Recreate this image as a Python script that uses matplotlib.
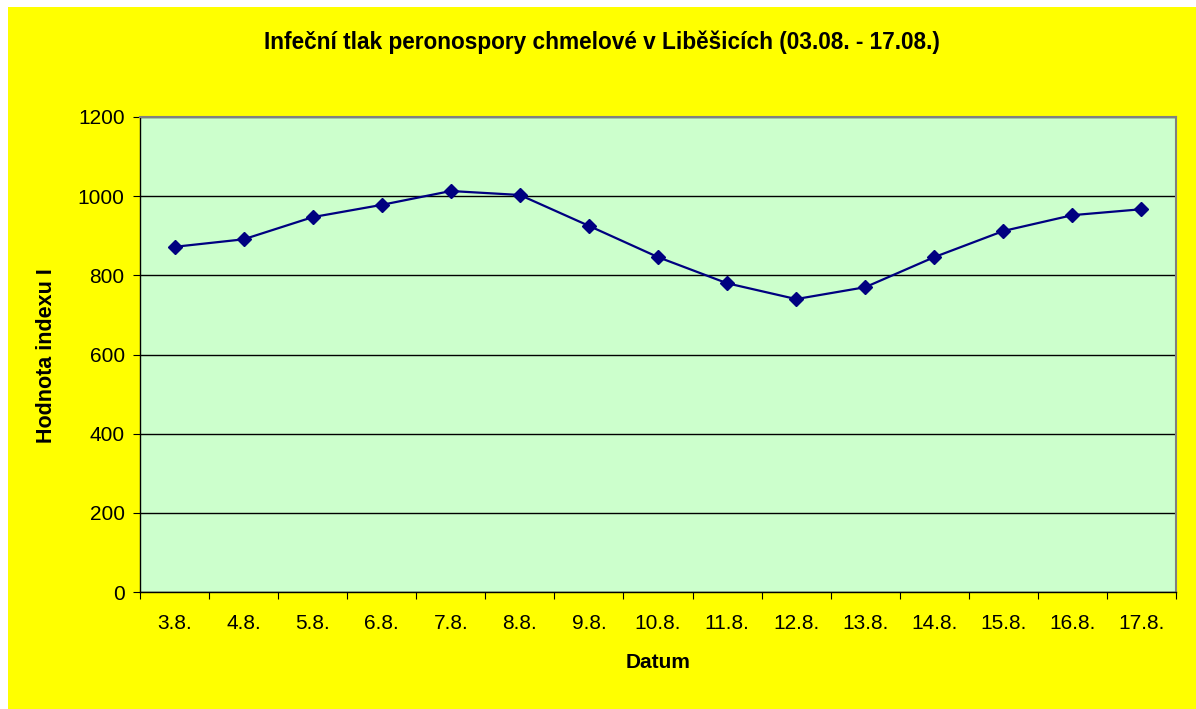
import matplotlib.pyplot as plt
import numpy as np
from matplotlib.patches import Rectangle

# data
dates = ['3.8.', '4.8.', '5.8.', '6.8.', '7.8.', '8.8.', '9.8.', '10.8.',
         '11.8.', '12.8.', '13.8.', '14.8.', '15.8.', '16.8.', '17.8.']
index_values = [872, 891, 947, 978, 1013, 1003, 925, 846,
                780, 740, 770, 846, 912, 952, 967]
y_ticks = [0, 200, 400, 600, 800, 1000, 1200]

plt.rcParams['font.family'] = ['Liberation Sans', 'DejaVu Sans']

fig = plt.figure(figsize=(11.96, 7.09), dpi=100, facecolor='white')
# yellow chart area (white strip on left and top)
fig.patches.append(Rectangle((8 / 1196, 0), 1 - 8 / 1196, 1 - 7 / 709,
                             transform=fig.transFigure, facecolor='#FFFF00',
                             edgecolor='none', zorder=-10))

ax = fig.add_axes([140 / 1196, (709 - 592) / 709, 1036 / 1196, 475 / 709])
ax.set_facecolor('#CCFFCC')

x = np.arange(len(dates))
ax.plot(x, index_values, color='#000080', linewidth=1.6, marker='D',
        markersize=7, zorder=3)

ax.set_xlim(-0.5, len(dates) - 0.5)
ax.set_ylim(0, 1200)
ax.set_yticks(y_ticks)
ax.set_yticklabels([str(v) for v in y_ticks], fontsize=15)
ax.grid(axis='y', color='black', linewidth=1)
ax.set_axisbelow(True)

# x ticks sit between categories, labels in the middle
ax.set_xticks(np.arange(-0.5, len(dates), 1.0))
ax.set_xticklabels([])
ax.set_xticks(x, minor=True)
ax.set_xticklabels(dates, minor=True, fontsize=15)
ax.tick_params(axis='x', which='minor', length=0, pad=16)
ax.tick_params(axis='x', which='major', length=5, direction='out')
ax.tick_params(axis='y', length=5, direction='out', pad=6)

for s in ['top', 'right']:
    ax.spines[s].set_color('#808080')
    ax.spines[s].set_linewidth(1.5)
for s in ['left', 'bottom']:
    ax.spines[s].set_color('black')
    ax.spines[s].set_linewidth(1)

fig.text(602 / 1196, 1 - 42 / 709,
         'Infeční tlak peronospory chmelové v Liběšicích (03.08. - 17.08.)',
         ha='center', va='center', fontsize=16.3, fontweight='bold')
fig.text(658 / 1196, 1 - 663 / 709, 'Datum', ha='center', va='center',
         fontsize=15, fontweight='bold')
fig.text(47 / 1196, 1 - 356 / 709, 'Hodnota indexu I', ha='center',
         va='center', rotation=90, fontsize=15.5, fontweight='bold')

plt.savefig('out.png', dpi=100, facecolor=fig.get_facecolor())
